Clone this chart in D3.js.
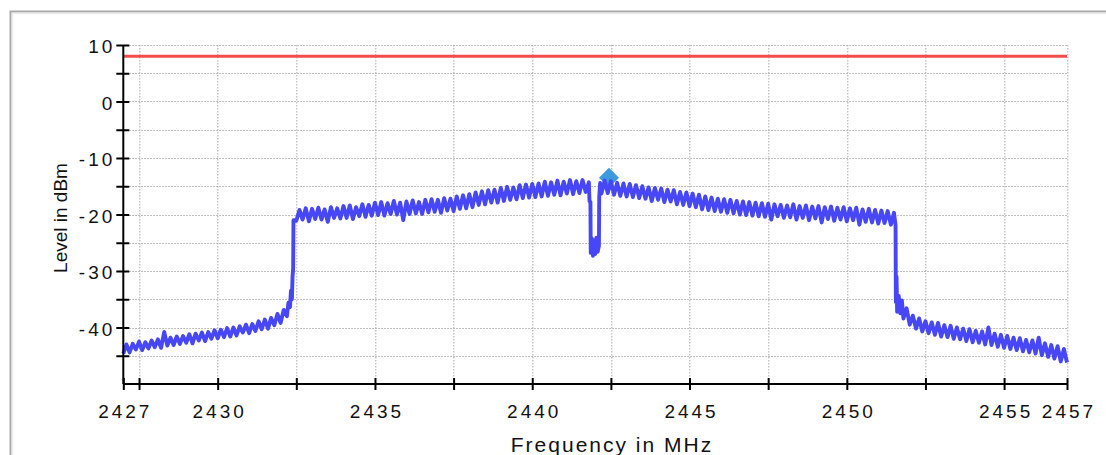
<!DOCTYPE html>
<html lang="en">
<head>
<meta charset="UTF-8">
<title>spectrum</title>
<script src="https://d3js.org/d3.v7.min.js"></script>
<style>
  body { margin: 0; background: #fff; }
  text { font-family: "Liberation Sans", Arial, sans-serif; fill: #111; }
</style>
</head>
<body>
<div id="chart"></div>
<script>

// axis values
var xTickLabels = [2427, 2430, 2435, 2440, 2445, 2450, 2455, 2457];
var xTicks = [2427, 2427.5, 2430, 2432.5, 2435, 2437.5, 2440, 2442.5, 2445, 2447.5, 2450, 2452.5, 2455, 2457];
var yTickLabels = [10, 0, -10, -20, -30, -40];
var yTicks = [10, 5, 0, -5, -10, -15, -20, -25, -30, -35, -40, -45];

// limit line and peak marker
var limitLevel = 8;
var markerFreq = 2442.44;
var markerLevel = -13.5;

// measured trace [MHz, dBm]
var traceLeft = [
  [2427.0,-44.6],[2427.1,-43.0],[2427.2,-44.4],[2427.3,-42.9],[2427.4,-43.9],[2427.5,-42.5],[2427.6,-44.0],[2427.7,-42.6],[2427.8,-43.7],[2427.9,-42.3],
  [2428.0,-43.5],[2428.1,-42.1],[2428.2,-43.6],[2428.3,-40.8],[2428.4,-43.2],[2428.5,-41.8],[2428.6,-43.1],[2428.7,-41.6],[2428.8,-42.9],[2428.9,-41.5],
  [2429.0,-42.7],[2429.1,-41.2],[2429.2,-42.8],[2429.3,-41.1],[2429.4,-42.3],[2429.5,-40.9],[2429.6,-42.4],[2429.7,-40.8],[2429.8,-42.0],[2429.9,-40.5],
  [2430.0,-41.9],[2430.1,-40.4],[2430.2,-41.7],[2430.3,-40.1],[2430.4,-41.6],[2430.5,-40.0],[2430.6,-41.4],[2430.7,-39.8],[2430.8,-40.9],[2430.9,-39.5],
  [2431.0,-41.0],[2431.1,-39.4],[2431.2,-40.6],[2431.3,-38.9],[2431.4,-40.3],[2431.5,-38.6],[2431.6,-40.2],[2431.7,-38.3],[2431.8,-39.6],[2431.9,-37.6],
  [2432.0,-39.2],[2432.1,-36.9],[2432.2,-38.0],[2432.25,-35.6],[2432.3,-36.4],[2432.33,-33.5],[2432.36,-35.0],[2432.38,-31.0],[2432.40,-29.5]
];
var traceTop = [
  [2432.41,-21.0],[2432.5,-21.1],[2432.6,-19.2],[2432.7,-20.9],[2432.8,-18.9],[2432.9,-21.2],
  [2433.0,-19.0],[2433.1,-20.8],[2433.2,-18.8],[2433.3,-20.9],[2433.4,-19.1],[2433.5,-21.3],[2433.6,-18.7],[2433.7,-20.6],[2433.8,-18.9],[2433.9,-20.7],
  [2434.0,-18.5],[2434.1,-20.6],[2434.2,-18.4],[2434.3,-20.8],[2434.4,-18.7],[2434.5,-20.3],[2434.6,-18.2],[2434.7,-20.4],[2434.8,-18.3],[2434.9,-20.2],
  [2435.0,-17.9],[2435.1,-20.1],[2435.2,-17.8],[2435.3,-20.2],[2435.4,-18.0],[2435.5,-19.9],[2435.6,-17.6],[2435.7,-20.0],[2435.8,-17.9],[2435.9,-21.0],
  [2436.0,-17.7],[2436.1,-19.9],[2436.2,-17.5],[2436.3,-19.8],[2436.4,-17.8],[2436.5,-19.9],[2436.6,-17.4],[2436.7,-19.6],[2436.8,-17.3],[2436.9,-19.5],
  [2437.0,-17.4],[2437.1,-19.7],[2437.2,-17.1],[2437.3,-19.3],[2437.4,-17.2],[2437.5,-19.4],[2437.6,-16.8],[2437.7,-19.0],[2437.8,-16.6],[2437.9,-18.9],
  [2438.0,-16.4],[2438.1,-18.7],[2438.2,-16.1],[2438.3,-18.3],[2438.4,-15.9],[2438.5,-18.2],[2438.6,-15.7],[2438.7,-17.9],[2438.8,-15.6],[2438.9,-17.9],
  [2439.0,-15.3],[2439.1,-17.6],[2439.2,-15.1],[2439.3,-17.4],[2439.4,-15.2],[2439.5,-17.3],[2439.6,-14.8],[2439.7,-17.1],[2439.8,-14.7],[2439.9,-17.0],
  [2440.0,-14.6],[2440.1,-16.9],[2440.2,-14.5],[2440.3,-16.8],[2440.4,-14.2],[2440.5,-16.7],[2440.6,-14.3],[2440.7,-16.5],[2440.8,-14.0],[2440.9,-16.6],
  [2441.0,-14.2],[2441.1,-16.3],[2441.2,-13.9],[2441.3,-16.4],[2441.4,-14.1],[2441.5,-16.2],[2441.6,-13.9],[2441.7,-16.0],[2441.8,-14.3]
];
var traceNotch = [
  [2441.82,-17.6],[2441.85,-17.8],[2441.86,-26.8],[2441.89,-24.2],[2441.93,-27.3],[2441.97,-24.6],[2442.0,-27.0],
  [2442.04,-24.1],[2442.08,-26.6],[2442.12,-25.5],[2442.13,-16.9],[2442.16,-14.4]
];
var traceRight = [
  [2442.2,-16.3],[2442.3,-14.0],[2442.4,-16.2],[2442.5,-14.1],[2442.6,-16.5],[2442.7,-14.4],[2442.8,-16.7],[2442.9,-14.5],
  [2443.0,-16.8],[2443.1,-14.6],[2443.2,-16.9],[2443.3,-14.8],[2443.4,-17.1],[2443.5,-15.0],[2443.6,-17.2],[2443.7,-15.2],[2443.8,-17.6],[2443.9,-15.3],
  [2444.0,-17.4],[2444.1,-15.4],[2444.2,-17.8],[2444.3,-15.6],[2444.4,-17.7],[2444.5,-15.7],[2444.6,-18.2],[2444.7,-16.0],[2444.8,-18.3],[2444.9,-16.1],
  [2445.0,-18.5],[2445.1,-16.3],[2445.2,-18.7],[2445.3,-16.5],[2445.4,-19.1],[2445.5,-16.8],[2445.6,-19.2],[2445.7,-17.0],[2445.8,-19.4],[2445.9,-17.2],
  [2446.0,-19.5],[2446.1,-17.3],[2446.2,-19.7],[2446.3,-17.4],[2446.4,-19.8],[2446.5,-17.6],[2446.6,-20.0],[2446.7,-17.7],[2446.8,-20.1],[2446.9,-17.8],
  [2447.0,-20.2],[2447.1,-17.9],[2447.2,-20.3],[2447.3,-18.0],[2447.4,-20.4],[2447.5,-18.1],[2447.6,-20.9],[2447.7,-18.2],[2447.8,-20.3],[2447.9,-18.3],
  [2448.0,-20.6],[2448.1,-18.4],[2448.2,-20.5],[2448.3,-18.2],[2448.4,-20.9],[2448.5,-18.5],[2448.6,-20.6],[2448.7,-18.4],[2448.8,-21.0],[2448.9,-18.6],
  [2449.0,-20.7],[2449.1,-18.5],[2449.2,-21.4],[2449.3,-18.7],[2449.4,-20.8],[2449.5,-18.6],[2449.6,-21.1],[2449.7,-18.8],[2449.8,-20.9],[2449.9,-18.7],
  [2450.0,-21.2],[2450.1,-18.9],[2450.2,-21.0],[2450.3,-18.8],[2450.4,-21.8],[2450.5,-19.1],[2450.6,-21.3],[2450.7,-19.0],[2450.8,-21.4],[2450.9,-19.2],
  [2451.0,-21.6],[2451.1,-19.3],[2451.2,-21.5],[2451.3,-19.4],[2451.4,-21.8],[2451.5,-19.7],[2451.55,-21.9]
];
var traceSkirt = [
  [2451.56,-35.5],[2451.58,-31.0],[2451.6,-37.2],[2451.65,-34.4],[2451.7,-37.5],[2451.75,-35.2],[2451.8,-38.4],[2451.9,-36.6],
  [2452.0,-39.5],[2452.1,-37.9],[2452.2,-40.2],[2452.3,-38.4],[2452.4,-40.7],[2452.5,-38.9],[2452.6,-41.0],[2452.7,-39.1],[2452.8,-41.3],[2452.9,-39.2],
  [2453.0,-41.6],[2453.1,-39.6],[2453.2,-41.7],[2453.3,-39.7],[2453.4,-42.0],[2453.5,-40.0],[2453.6,-42.1],[2453.7,-40.2],[2453.8,-42.4],[2453.9,-40.3],
  [2454.0,-42.6],[2454.1,-40.6],[2454.2,-42.7],[2454.3,-40.7],[2454.4,-43.0],[2454.5,-40.0],[2454.6,-43.1],[2454.7,-41.1],[2454.8,-43.4],[2454.9,-41.3],
  [2455.0,-43.6],[2455.1,-41.5],[2455.2,-43.8],[2455.3,-41.8],[2455.4,-44.0],[2455.5,-41.9],[2455.6,-44.2],[2455.7,-42.2],[2455.8,-44.4],[2455.9,-42.3],
  [2456.0,-44.6],[2456.1,-41.8],[2456.2,-44.9],[2456.3,-42.8],[2456.4,-45.2],[2456.5,-43.1],[2456.6,-45.5],[2456.7,-43.3],[2456.8,-46.0],[2456.9,-43.8],
  [2457.0,-46.2]
];
var trace = traceLeft.concat(traceTop, traceNotch, traceRight, traceSkirt);

var W = 1106, H = 455;
var margin = {top: 45, left: 123.3, right: 39, bottom: 71};
var width = W - margin.left - margin.right,
    height = H - margin.top - margin.bottom;

var root = d3.select("#chart")
  .append("svg")
    .attr("width", W)
    .attr("height", H);

// outer frame
root.append("rect")
    .attr("x", 10.5).attr("y", 11.5)
    .attr("width", 1200).attr("height", 600)
    .attr("fill", "none")
    .attr("stroke", "#a9a9a9")
    .attr("stroke-width", 2);
root.append("path")
    .attr("d", "M12,13.5H1106M12.5,13V455")
    .attr("stroke", "#ececec")
    .attr("stroke-width", 1.5);

var svg = root.append("g")
    .attr("transform", "translate(" + margin.left + "," + margin.top + ")");

var x = d3.scaleLinear().domain([2427, 2457]).range([0, width]);
var y = d3.scaleLinear().domain([-50, 10]).range([height, 0]);

// dotted grid
var grid = svg.append("g")
    .attr("stroke", "#ababab")
    .attr("stroke-width", 1)
    .attr("stroke-dasharray", "1.5,1.5");
grid.selectAll("line.h")
  .data(yTicks)
  .enter().append("line")
    .attr("x1", 0).attr("x2", width)
    .attr("y1", function(d) { return Math.round(y(d)) + 0.5; })
    .attr("y2", function(d) { return Math.round(y(d)) + 0.5; });
grid.selectAll("line.v")
  .data(xTicks.filter(function(d) { return d > 2427; }))
  .enter().append("line")
    .attr("y1", 0).attr("y2", height)
    .attr("x1", function(d) { return Math.round(x(d)) + 0.5; })
    .attr("x2", function(d) { return Math.round(x(d)) + 0.5; });

// limit line
svg.append("line")
    .attr("x1", 0).attr("x2", width)
    .attr("y1", y(limitLevel)).attr("y2", y(limitLevel))
    .attr("stroke", "#f54b4b")
    .attr("stroke-width", 3);

// peak marker
var mx = x(markerFreq), my = y(markerLevel);
svg.append("path")
    .attr("d", "M" + mx + "," + (my - 10) + "L" + (mx + 10) + "," + my + "L" + mx + "," + (my + 10) + "L" + (mx - 10) + "," + my + "Z")
    .attr("fill", "#3d9ade");

// trace
var line = d3.line()
    .x(function(d) { return x(d[0]); })
    .y(function(d) { return y(d[1]); });
svg.append("path")
    .datum(trace)
    .attr("d", line)
    .attr("fill", "none")
    .attr("stroke", "#4747f7")
    .attr("stroke-width", 3.9)
    .attr("stroke-linejoin", "round");

// y axis
var yAxis = svg.append("g")
    .call(d3.axisLeft(y)
      .tickValues(yTicks)
      .tickSize(7)
      .tickFormat(function(d) { return yTickLabels.indexOf(d) >= 0 ? String(d) : ""; }));
yAxis.select(".domain").attr("stroke", "#000").attr("stroke-width", 2).attr("d", "M0,0V" + height);
yAxis.selectAll(".tick line").attr("x1", -7).attr("x2", 6).attr("stroke", "#000").attr("stroke-width", 2);
yAxis.selectAll(".tick text")
    .attr("x", -8)
    .attr("dy", "0.42em")
    .style("font-size", "19px")
    .style("letter-spacing", "3px")
    .attr("fill", "#111");

// x axis
var xAxis = svg.append("g")
    .attr("transform", "translate(0," + height + ")")
    .call(d3.axisBottom(x)
      .tickValues(xTicks)
      .tickSize(6)
      .tickFormat(function(d) { return xTickLabels.indexOf(d) >= 0 ? String(d) : ""; }));
xAxis.select(".domain").attr("stroke", "#000").attr("stroke-width", 2).attr("d", "M0,0H" + width);
xAxis.selectAll(".tick line").attr("y1", -6).attr("y2", 6).attr("stroke", "#000").attr("stroke-width", 2);
xAxis.selectAll(".tick text")
    .attr("y", 33.5)
    .attr("dy", 0)
    .attr("dx", 1.5)
    .style("font-size", "19px")
    .style("letter-spacing", "3px")
    .attr("fill", "#111");

// axis titles
root.append("text")
    .attr("transform", "translate(67,218) rotate(-90)")
    .attr("text-anchor", "middle")
    .style("font-size", "19px")
    .text("Level in dBm");
root.append("text")
    .attr("x", 612)
    .attr("y", 451.5)
    .attr("text-anchor", "middle")
    .style("font-size", "21px")
    .style("letter-spacing", "2px")
    .text("Frequency in MHz");

</script>
</body>
</html>
